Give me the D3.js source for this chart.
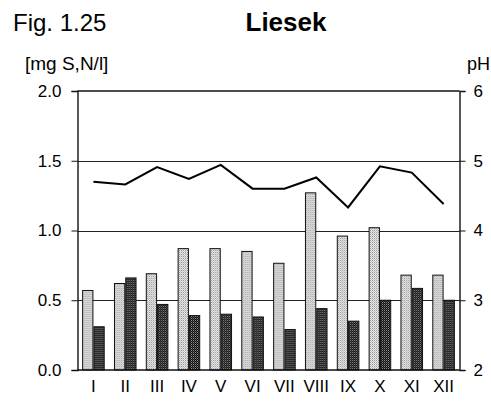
<!DOCTYPE html>
<html>
<head>
<meta charset="utf-8">
<script src="https://cdn.jsdelivr.net/npm/d3@7"></script>
<style>
  html, body { margin: 0; padding: 0; background: #fff; }
  svg { display: block; font-family: "Liberation Sans", Arial, sans-serif; }
</style>
</head>
<body>
<svg id="chart" width="491" height="406"></svg>
<script>
// Monthly means: sulphur and nitrogen in precipitation [mg/l], and pH
const months = ["I","II","III","IV","V","VI","VII","VIII","IX","X","XI","XII"];
const sulphur = [0.57, 0.62, 0.69, 0.87, 0.87, 0.85, 0.765, 1.27, 0.96, 1.02, 0.68, 0.68];
const nitrogen = [0.31, 0.66, 0.47, 0.39, 0.40, 0.38, 0.29, 0.44, 0.35, 0.50, 0.585, 0.50];
const ph = [4.70, 4.66, 4.91, 4.74, 4.94, 4.60, 4.60, 4.76, 4.33, 4.92, 4.83, 4.38];
const leftTicks = [0, 0.5, 1.0, 1.5, 2.0];
const rightTicks = [2, 3, 4, 5, 6];
const seriesKeys = ["S", "N"];

const svg = d3.select("#chart");
const plotLeft = 77.5, plotRight = 459.5, plotTop = 91, plotBottom = 370;

const x0 = d3.scaleBand().domain(months).range([plotLeft, plotRight]).padding(0);
const x1 = d3.scaleBand().domain(seriesKeys).range([0, x0.bandwidth()])
  .paddingInner(0).paddingOuter(0.41);
const y = d3.scaleLinear().domain([0, 2]).range([plotBottom, plotTop]);
const yPh = d3.scaleLinear().domain([2, 6]).range([plotBottom, plotTop]);

// Fill patterns for the two bar series
const defs = svg.append("defs");
const pLight = defs.append("pattern").attr("id", "patS")
  .attr("patternUnits", "userSpaceOnUse").attr("width", 2).attr("height", 2);
pLight.append("rect").attr("width", 2).attr("height", 2).attr("fill", "#e8e8e8");
pLight.append("rect").attr("width", 1).attr("height", 1).attr("fill", "#999");
pLight.append("rect").attr("x", 1).attr("y", 1).attr("width", 1).attr("height", 1).attr("fill", "#c4c4c4");

const pDark = defs.append("pattern").attr("id", "patN")
  .attr("patternUnits", "userSpaceOnUse").attr("width", 2).attr("height", 2);
pDark.append("rect").attr("width", 2).attr("height", 2).attr("fill", "#111");
pDark.append("rect").attr("width", 1).attr("height", 1).attr("fill", "#8f8f8f");
pDark.append("rect").attr("x", 1).attr("y", 1).attr("width", 1).attr("height", 1).attr("fill", "#444");

// Horizontal grid lines
svg.append("g").selectAll("line")
  .data(leftTicks.filter(d => d > 0 && d < 2))
  .join("line")
  .attr("x1", plotLeft).attr("x2", plotRight)
  .attr("y1", d => Math.round(y(d)) + 0.5).attr("y2", d => Math.round(y(d)) + 0.5)
  .attr("stroke", "#222").attr("stroke-width", 1);

// Bars
const rows = months.map((m, i) => ({ m, S: sulphur[i], N: nitrogen[i] }));
const groups = svg.append("g").selectAll("g")
  .data(rows).join("g")
  .attr("transform", d => `translate(${x0(d.m)},0)`);
groups.selectAll("rect")
  .data(d => seriesKeys.map(k => ({ k, v: d[k] })))
  .join("rect")
  .attr("x", d => x1(d.k) + 0.5)
  .attr("width", x1.bandwidth() - 1)
  .attr("y", d => y(d.v))
  .attr("height", d => y(0) - y(d.v))
  .attr("fill", d => `url(#pat${d.k})`)
  .attr("stroke", "#111").attr("stroke-width", 1);

// Frame: top and bottom lines
[2, 0].forEach(v => {
  svg.append("line")
    .attr("x1", plotLeft).attr("x2", plotRight)
    .attr("y1", y(v)).attr("y2", y(v))
    .attr("stroke", "#111").attr("stroke-width", 1.4);
});

// Axes
const fmt = d3.format(".1f");
const gl = svg.append("g").attr("transform", `translate(${plotLeft},0)`)
  .call(d3.axisLeft(y).tickValues(leftTicks).tickFormat(fmt).tickSizeOuter(0).tickSize(6).tickPadding(10));
const gr = svg.append("g").attr("transform", `translate(${plotRight},0)`)
  .call(d3.axisRight(yPh).tickValues(rightTicks).tickFormat(d3.format("d")).tickSizeOuter(0).tickSize(6).tickPadding(8));
[gl, gr].forEach(g => {
  g.select(".domain").attr("stroke", "#111").attr("stroke-width", 1.4);
  g.selectAll(".tick line").attr("stroke", "#111").attr("stroke-width", 1);
  g.selectAll("text").attr("font-size", 17).attr("fill", "#000")
    .attr("font-family", "Liberation Sans, Arial, sans-serif");
});

const gx = svg.append("g").attr("transform", `translate(0,${plotBottom})`)
  .call(d3.axisBottom(x0).tickSize(0).tickPadding(10));
gx.select(".domain").remove();
gx.selectAll("text").attr("font-size", 17).attr("fill", "#000")
  .attr("font-family", "Liberation Sans, Arial, sans-serif");

// pH line
const line = d3.line()
  .x((d, i) => x0(months[i]) + x0.bandwidth() / 2)
  .y(d => yPh(d));
svg.append("path").datum(ph)
  .attr("d", line).attr("fill", "none")
  .attr("stroke", "#000").attr("stroke-width", 2).attr("stroke-linejoin", "miter");

// Titles and axis captions
svg.append("text").attr("x", 13).attr("y", 31)
  .attr("font-size", 24).text("Fig. 1.25");
svg.append("text").attr("x", 286).attr("y", 31).attr("text-anchor", "middle")
  .attr("font-size", 26).attr("font-weight", "bold").text("Liesek");
svg.append("text").attr("x", 25).attr("y", 70)
  .attr("font-size", 19).text("[mg S,N/l]");
svg.append("text").attr("x", 490).attr("y", 70).attr("text-anchor", "end")
  .attr("font-size", 18).text("pH");
</script>
</body>
</html>
